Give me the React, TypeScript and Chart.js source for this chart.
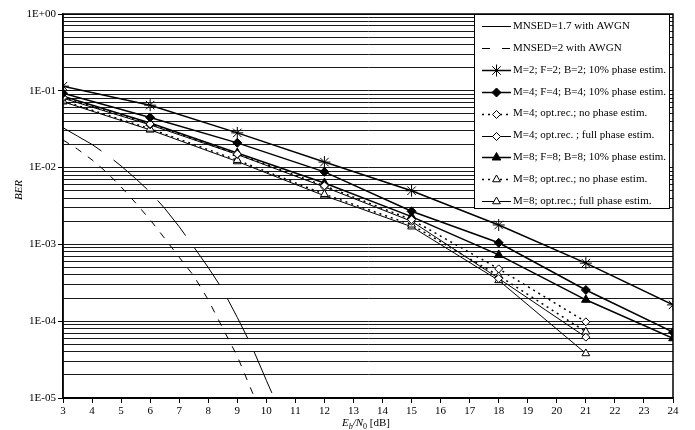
import React, { useEffect, useRef } from "react";
import { Chart, registerables } from "chart.js";
import { drawPoint } from "chart.js/helpers";

Chart.register(...registerables);

// ---------- data ----------
const snrTheory = [3, 3.5, 4, 4.5, 5, 5.5, 6, 6.5, 7, 7.5, 8, 8.5, 9, 9.5, 10, 10.5];
const berMnsed17 = [3.31e-2, 2.57e-2, 2.0e-2, 1.48e-2, 1.05e-2, 7.2e-3, 4.8e-3, 2.95e-3, 1.7e-3, 9.3e-4, 5.0e-4, 2.57e-4, 1.12e-4, 4.7e-5, 1.7e-5, 6.3e-6];
const berMnsed2 = [2.29e-2, 1.74e-2, 1.26e-2, 8.7e-3, 5.6e-3, 3.47e-3, 2.09e-3, 1.2e-3, 6.8e-4, 3.9e-4, 1.9e-4, 8.1e-5, 3.5e-5, 1.23e-5, 4.5e-6];

const snrMarked = [3, 6, 9, 12, 15, 18, 21, 24];
const berM2F2B2 = [0.115, 0.065, 0.0283, 0.0118, 5.0e-3, 1.79e-3, 5.7e-4, 1.63e-4];
const berM4F4B4 = [0.093, 0.045, 0.021, 8.8e-3, 2.7e-3, 1.05e-3, 2.55e-4, 7.2e-5];
const berM4NoPhase = [0.082, 0.037, 0.015, 5.8e-3, 2.1e-3, 4.8e-4, 9.8e-5];
const berM4FullPhase = [0.080, 0.036, 0.0148, 5.6e-3, 2.0e-3, 3.6e-4, 6.2e-5];
const berM8F8B8 = [0.085, 0.038, 0.0155, 6.3e-3, 2.3e-3, 7.3e-4, 1.9e-4, 6.0e-5];
const berM8NoPhase = [0.074, 0.032, 0.0125, 4.5e-3, 1.8e-3, 3.9e-4, 7.3e-5];
const berM8FullPhase = [0.072, 0.031, 0.012, 4.3e-3, 1.7e-3, 3.4e-4, 3.8e-5];

const seriesLabels = [
  "MNSED=1.7 with AWGN",
  "MNSED=2 with AWGN",
  "M=2; F=2; B=2; 10% phase estim.",
  "M=4; F=4; B=4; 10% phase estim.",
  "M=4; opt.rec.; no phase estim.",
  "M=4; opt.rec. ; full phase estim.",
  "M=8; F=8; B=8; 10% phase estim.",
  "M=8; opt.rec.; no phase estim.",
  "M=8; opt.rec.; full phase estim.",
];

const xTicks = [3, 24];
const yDecades = [1e-5, 1e-4, 1e-3, 1e-2, 1e-1, 1];
const yTickLabels = ["1E-05", "1E-04", "1E-03", "1E-02", "1E-01", "1E+00"];
const mantissas = [1, 2, 3, 4, 5, 6, 7, 8, 9];

const FONT = "'Liberation Serif', 'Times New Roman', serif";

function pts(xs: number[], ys: number[]) {
  return ys.map((y, i) => ({ x: xs[i], y }));
}

const isDecade = (v: number) => yDecades.some((d) => Math.abs(d - v) / d < 1e-6);

const gridValues: number[] = [];
yDecades.slice(0, -1).forEach((d) => mantissas.forEach((m) => gridValues.push(d * m)));
gridValues.push(1);

const overlayPlugin = {
  id: "overlay",
  afterDraw(chart: any) {
    const ctx = chart.ctx as CanvasRenderingContext2D;
    const { left, top, right, bottom } = chart.chartArea;
    ctx.save();
    // frame
    ctx.strokeStyle = "#000";
    ctx.lineWidth = 1.5;
    ctx.setLineDash([]);
    ctx.strokeRect(left, top, right - left, bottom - top);

    // legend
    const bx = right - 199;
    const by = top;
    const bw = 195;
    const bh = 194;
    ctx.fillStyle = "#fff";
    ctx.fillRect(bx, by, bw, bh);
    ctx.lineWidth = 1;
    ctx.strokeStyle = "#000";
    ctx.strokeRect(bx + 0.5, by + 0.5, bw, bh);
    ctx.font = `11px ${FONT}`;
    ctx.textBaseline = "middle";
    ctx.textAlign = "left";
    chart.data.datasets.forEach((ds: any, i: number) => {
      const y = by + 12 + i * 21.9;
      const x0 = bx + 8;
      const x1 = bx + 37;
      ctx.save();
      ctx.strokeStyle = "#000";
      ctx.lineWidth = ds.borderWidth;
      ctx.setLineDash(ds.legendDash || []);
      ctx.beginPath();
      ctx.moveTo(x0, Math.round(y) + 0.5);
      ctx.lineTo(x1, Math.round(y) + 0.5);
      ctx.stroke();
      ctx.setLineDash([]);
      if (ds.pointRadius > 0) {
        ctx.fillStyle = ds.pointBackgroundColor;
        ctx.strokeStyle = "#000";
        ctx.lineWidth = ds.pointBorderWidth;
        drawPoint(ctx, { pointStyle: ds.pointStyle, rotation: 0, radius: ds.pointRadius, borderWidth: ds.pointBorderWidth } as any, (x0 + x1) / 2, Math.round(y) + 0.5);
      }
      ctx.restore();
      ctx.fillStyle = "#000";
      ctx.fillText(ds.label, bx + 39, y);
    });

    // y title
    ctx.save();
    ctx.translate(19, 190);
    ctx.rotate(-Math.PI / 2);
    ctx.font = `italic 11px ${FONT}`;
    ctx.textAlign = "center";
    ctx.textBaseline = "middle";
    ctx.fillStyle = "#000";
    ctx.fillText("BER", 0, 0);
    ctx.restore();

    // x title with subscripts
    const parts = [
      { t: "E", f: `italic 11px ${FONT}`, dy: 0 },
      { t: "b", f: `italic 8px ${FONT}`, dy: 2.5 },
      { t: "/N", f: `italic 11px ${FONT}`, dy: 0 },
      { t: "0", f: `8px ${FONT}`, dy: 2.5 },
      { t: " [dB]", f: `11px ${FONT}`, dy: 0 },
    ];
    let total = 0;
    parts.forEach((p) => {
      ctx.font = p.f;
      total += ctx.measureText(p.t).width;
    });
    let cx = (left + right) / 2 - total / 2 - 2;
    const base = 426;
    ctx.textAlign = "left";
    ctx.textBaseline = "alphabetic";
    ctx.fillStyle = "#000";
    parts.forEach((p) => {
      ctx.font = p.f;
      ctx.fillText(p.t, cx, base + p.dy);
      cx += ctx.measureText(p.t).width;
    });
    ctx.restore();
  },
};

export default function App() {
  const ref = useRef<HTMLCanvasElement | null>(null);
  useEffect(() => {
    document.body.style.margin = "0";
    const line = (label: string, data: any[], extra: any) => ({
      label,
      data,
      borderColor: "#000",
      backgroundColor: "#000",
      pointBorderColor: "#000",
      pointBackgroundColor: "#000",
      fill: false,
      tension: 0,
      ...extra,
    });
    const chart = new Chart(ref.current as HTMLCanvasElement, {
      type: "line",
      data: {
        datasets: [
          line(seriesLabels[0], pts(snrTheory, berMnsed17), { borderWidth: 1, borderDash: [45, 15], pointRadius: 0, legendDash: [] }),
          line(seriesLabels[1], pts(snrTheory, berMnsed2), { borderWidth: 1, borderDash: [7, 8], pointRadius: 0, legendDash: [8, 12] }),
          line(seriesLabels[2], pts(snrMarked, berM2F2B2), { borderWidth: 1.5, pointStyle: "star", pointRadius: 6, pointBorderWidth: 1 }),
          line(seriesLabels[3], pts(snrMarked, berM4F4B4), { borderWidth: 1.5, pointStyle: "rectRot", pointRadius: 4.5, pointBorderWidth: 1 }),
          line(seriesLabels[4], pts(snrMarked, berM4NoPhase), { borderWidth: 1.5, borderDash: [2, 4], legendDash: [2, 4], pointStyle: "rectRot", pointRadius: 4, pointBorderWidth: 1, pointBackgroundColor: "#fff" }),
          line(seriesLabels[5], pts(snrMarked, berM4FullPhase), { borderWidth: 1, pointStyle: "rectRot", pointRadius: 4, pointBorderWidth: 1, pointBackgroundColor: "#fff" }),
          line(seriesLabels[6], pts(snrMarked, berM8F8B8), { borderWidth: 1.5, pointStyle: "triangle", pointRadius: 5, pointBorderWidth: 1 }),
          line(seriesLabels[7], pts(snrMarked, berM8NoPhase), { borderWidth: 1.5, borderDash: [2, 4], legendDash: [2, 4], pointStyle: "triangle", pointRadius: 4.5, pointBorderWidth: 1, pointBackgroundColor: "#fff" }),
          line(seriesLabels[8], pts(snrMarked, berM8FullPhase), { borderWidth: 1, pointStyle: "triangle", pointRadius: 4.5, pointBorderWidth: 1, pointBackgroundColor: "#fff" }),
        ],
      },
      options: {
        animation: false,
        responsive: false,
        devicePixelRatio: 1,
        layout: { padding: { top: 14, right: 22, left: 0, bottom: 0 } },
        plugins: { legend: { display: false }, tooltip: { enabled: false } },
        scales: {
          x: {
            type: "linear",
            min: xTicks[0],
            max: xTicks[1],
            ticks: { stepSize: 1, color: "#000", font: { family: FONT, size: 11 }, padding: 2, maxRotation: 0, autoSkip: false },
            grid: { drawOnChartArea: false, drawTicks: true, tickLength: 5, color: "#000", tickColor: "#000" },
            border: { display: true, color: "#000", width: 1.5 },
            afterFit: (s: any) => {
              s.height = 32;
            },
          },
          y: {
            type: "logarithmic",
            min: yDecades[0],
            max: yDecades[yDecades.length - 1],
            afterBuildTicks: (s: any) => {
              s.ticks = gridValues.map((v) => ({ value: v }));
            },
            ticks: {
              autoSkip: false,
              color: "#000",
              font: { family: FONT, size: 11 },
              padding: 2,
              callback: (value: any) => {
                const i = yDecades.findIndex((d) => Math.abs(d - value) / d < 1e-6);
                return i >= 0 ? yTickLabels[i] : "";
              },
            },
            grid: {
              color: "#1a1a1a",
              lineWidth: 1,
              tickLength: 5,
              tickColor: (c: any) => (c.tick && isDecade(c.tick.value) ? "#000" : "rgba(0,0,0,0)"),
            },
            border: { display: true, color: "#000", width: 1.5 },
            afterFit: (s: any) => {
              s.width = 63;
            },
          },
        },
      } as any,
      plugins: [overlayPlugin],
    });
    return () => chart.destroy();
  }, []);
  return <canvas ref={ref} width={695} height={430} style={{ display: "block" }} />;
}
